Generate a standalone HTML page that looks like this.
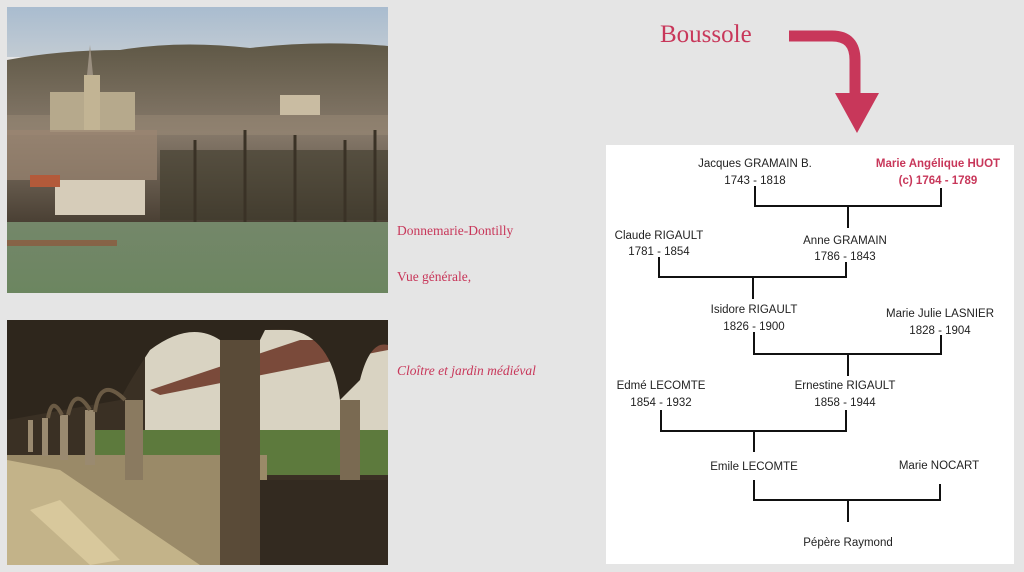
<!DOCTYPE html>
<html><head><meta charset="utf-8"><style>
html,body{margin:0;padding:0;width:1024px;height:572px;overflow:hidden;background:#e5e5e5}
svg{display:block}
.t{font-family:"Liberation Sans",sans-serif;font-size:11.5px;fill:#222;text-anchor:middle}
.r{fill:#c8375a;font-weight:bold}
.s{font-family:"Liberation Serif",serif;fill:#c8375a}
</style></head><body>
<svg width="1024" height="572" viewBox="0 0 1024 572">
<defs>
<linearGradient id="sky" x1="0" y1="0" x2="0" y2="1"><stop offset="0" stop-color="#a9bccf"/><stop offset="1" stop-color="#c2cbd3"/></linearGradient>
<linearGradient id="town" x1="0" y1="0" x2="0" y2="1"><stop offset="0" stop-color="#5f5846"/><stop offset="0.5" stop-color="#86796a"/><stop offset="1" stop-color="#4a4034"/></linearGradient>
<linearGradient id="field" x1="0" y1="0" x2="0" y2="1"><stop offset="0" stop-color="#74876a"/><stop offset="1" stop-color="#6c8660"/></linearGradient>
</defs>
<!-- photo 1 -->
<rect x="7" y="7" width="381" height="50" fill="url(#sky)"/>
<path d="M7 60 Q60 50 120 50 Q180 40 250 48 Q320 40 388 46 L388 222 L7 222Z" fill="url(#town)"/>
<rect x="7" y="115" width="381" height="20" fill="#9a8a76" opacity="0.5"/>
<rect x="50" y="92" width="85" height="40" fill="#b6a98c"/>
<rect x="84" y="75" width="16" height="55" fill="#c2b494"/>
<polygon points="90,45 93,75 87,75" fill="#9a8f80"/>
<rect x="7" y="130" width="150" height="50" fill="#9b8672" opacity="0.7"/>
<rect x="280" y="95" width="40" height="20" fill="#c9bca2"/>
<rect x="160" y="150" width="228" height="70" fill="#3e3a2c" opacity="0.6"/>
<rect x="55" y="180" width="90" height="35" fill="#d6ccb9"/>
<rect x="30" y="175" width="30" height="12" fill="#b35a3a"/>
<g stroke="#3a3226" stroke-width="3"><path d="M195 222V140M245 222V130M295 222V135M345 222V140M375 222V130"/></g>
<rect x="7" y="222" width="381" height="71" fill="url(#field)"/>
<rect x="7" y="240" width="110" height="6" fill="#8c5a3e" opacity="0.8"/>
<!-- photo 2 -->
<rect x="7" y="320" width="381" height="245" fill="#3a3024"/>
<rect x="145" y="330" width="243" height="140" fill="#d9d3c2"/>
<polygon points="150,390 300,340 388,340 388,350 160,395" fill="#7a4a3a"/>
<rect x="90" y="430" width="298" height="45" fill="#5d7a3d"/>
<rect x="7" y="455" width="260" height="110" fill="#9a8a68"/>
<polygon points="7,460 7,565 200,565 60,470" fill="#e0cfa0" opacity="0.6"/>
<rect x="220" y="330" width="40" height="235" fill="#5a4b38"/>
<rect x="340" y="400" width="20" height="120" fill="#7a6a52"/>
<rect x="125" y="400" width="18" height="80" fill="#8a7a60"/>
<g fill="#9a8a70"><rect x="85" y="410" width="10" height="55"/><rect x="60" y="415" width="8" height="45"/><rect x="42" y="418" width="6" height="38"/><rect x="28" y="420" width="5" height="32"/></g>
<path d="M7 320 H388 V345 Q370 340 360 380 L340 400 Q330 320 265 330 L260 340 L220 340 Q190 320 150 350 Q130 380 120 400 L7 420Z" fill="#2e261c"/>
<path d="M95 412 Q100 375 125 400 M68 415 Q75 385 90 410 M48 418 Q52 395 62 415" fill="none" stroke="#6a5a44" stroke-width="4"/>
<rect x="260" y="480" width="128" height="85" fill="#332a20"/>
<polygon points="60,500 120,560 90,565 30,510" fill="#e6d6a8" opacity="0.6"/>
<!-- labels -->
<text x="397" y="235" class="s" font-size="13.5">Donnemarie-Dontilly</text>
<text x="397" y="281" class="s" font-size="13.5">Vue générale,</text>
<text x="397" y="375" class="s" font-size="13.5" font-style="italic">Cloître et jardin médiéval</text>
<text x="660" y="42" class="s" font-size="25">Boussole</text>
<path d="M789 36 H832 Q855 36 855 60 V95" fill="none" stroke="#c8375a" stroke-width="11"/>
<polygon points="835,93 879,93 857,133" fill="#c8375a"/>
<!-- tree box -->
<rect x="606" y="145" width="408" height="419" fill="#fff"/>
<g fill="none" stroke="#111" stroke-width="2">
<path d="M755 186 V206 H941 V188 M848 206 V228"/>
<path d="M659 257 V277 H846 V262 M753 277 V299"/>
<path d="M754 332 V354 H941 V335 M848 354 V376"/>
<path d="M661 410 V431 H846 V410 M754 431 V452"/>
<path d="M754 480 V500 H940 V484 M848 500 V522"/>
</g>
<text class="t" x="755" y="167">Jacques GRAMAIN B.</text><text class="t" x="755" y="184">1743 - 1818</text>
<text class="t r" x="938" y="167">Marie Angélique HUOT</text><text class="t r" x="938" y="184">(c) 1764 - 1789</text>
<text class="t" x="659" y="239">Claude RIGAULT</text><text class="t" x="659" y="255">1781 - 1854</text>
<text class="t" x="845" y="244">Anne GRAMAIN</text><text class="t" x="845" y="260">1786 - 1843</text>
<text class="t" x="754" y="313">Isidore RIGAULT</text><text class="t" x="754" y="330">1826 - 1900</text>
<text class="t" x="940" y="317">Marie Julie LASNIER</text><text class="t" x="940" y="334">1828 - 1904</text>
<text class="t" x="661" y="389">Edmé LECOMTE</text><text class="t" x="661" y="406">1854 - 1932</text>
<text class="t" x="845" y="389">Ernestine RIGAULT</text><text class="t" x="845" y="406">1858 - 1944</text>
<text class="t" x="754" y="470">Emile LECOMTE</text>
<text class="t" x="939" y="469">Marie NOCART</text>
<text class="t" x="848" y="546">Pépère Raymond</text>
</svg>
</body></html>
